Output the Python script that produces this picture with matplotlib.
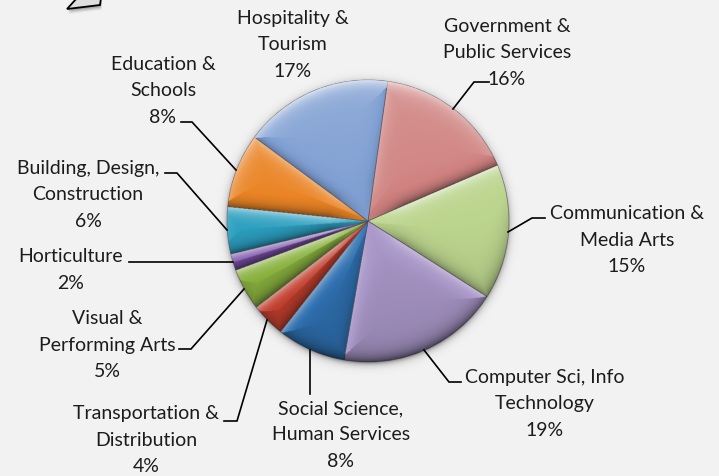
import numpy as np
import matplotlib
matplotlib.use("Agg")
import matplotlib.pyplot as plt
from matplotlib.patches import Circle, Polygon

W, H = 719, 476
BG = "#f2f2f2"
plt.rcParams["font.family"] = ["Lato", "DejaVu Sans"]

# ---- data (clockwise from the top) ----
categories = ["Government &\nPublic Services", "Communication &\nMedia Arts",
              "Computer Sci, Info\nTechnology", "Social Science,\nHuman Services",
              "Transportation &\nDistribution", "Visual &\nPerforming Arts",
              "Horticulture", "Building, Design,\nConstruction",
              "Education &\nSchools", "Hospitality &\nTourism"]
percent_labels = [16, 15, 19, 8, 4, 5, 2, 6, 8, 17]
slice_sizes = [16.3, 15.5, 18.7, 7.9, 3.9, 4.8, 1.9, 5.4, 8.5, 17.1]
colors = ["#cf8280", "#bcd58e", "#a997c8", "#2f70b0", "#c2402f",
          "#8ab23f", "#7b50a8", "#2c9fc0", "#ea8425", "#7f9fd2"]

# ---- layout in reference pixels ----
center_px = (368, 221)
radius_px = 141
start_angle = 82
label_centers = [(507, 53), (627, 240), (545, 404), (341, 435), (146, 440),
                 (107, 345), (71, 270), (88, 195), (163, 91), (293, 45)]
leaders = [[(489, 82), (474, 82), (453, 109)],
           [(545, 218), (532, 218), (508, 232)],
           [(461, 382), (449, 382), (424, 350)],
           [(310, 394), (310, 350)],
           [(224, 421), (237, 421), (267, 320)],
           [(179, 349), (191, 349), (244, 289)],
           [(129, 262), (233, 262)],
           [(165, 173), (177, 173), (227, 230)],
           [(181, 122), (192, 122), (236, 170)],
           None]

fig = plt.figure(figsize=(W / 100, H / 100), dpi=100, facecolor=BG)
ax = fig.add_axes([0, 0, 1, 1])
cx, cy = center_px[0], H - center_px[1]
R = radius_px

wedges, _ = ax.pie(slice_sizes, colors=colors, startangle=start_angle, counterclock=False,
                   center=(cx, cy), radius=R, frame=True,
                   wedgeprops=dict(edgecolor=(0.25, 0.25, 0.3, 0.55), linewidth=0.6, zorder=2))
ax.set_xlim(0, W)
ax.set_ylim(0, H)
ax.set_aspect("equal")
ax.axis("off")
fig.patch.set_facecolor(BG)

# ---- soft shading: drop shadow, bevel per slice ----
ss = 2
xs = (np.arange(W * ss) + 0.5) / ss
ys = (np.arange(H * ss) + 0.5) / ss
X, Y = np.meshgrid(xs, ys)
dx, dy = X - cx, Y - cy
r = np.hypot(dx, dy) + 1e-6
ang = (start_angle - np.degrees(np.arctan2(dy, dx))) % 360
edges = np.concatenate([[0], np.cumsum(slice_sizes)]) * 360.0 / sum(slice_sizes)
idx = np.clip(np.searchsorted(edges, ang, side="right") - 1, 0, len(slice_sizes) - 1)
a0 = np.radians(ang - edges[idx])
a1 = np.radians(edges[idx + 1] - ang)
d_arc = R - r
d0 = r * np.sin(np.minimum(a0, np.pi / 2))
d1 = r * np.sin(np.minimum(a1, np.pi / 2))
L = np.array([-0.25, 0.97])
ux, uy = dx / r, dy / r
t = np.radians(start_angle) - (np.radians(ang) - a0)
t1 = t - (a0 + a1)
n0x, n0y = -np.sin(t), np.cos(t)
n1x, n1y = np.sin(t1), -np.cos(t1)
dot_arc = ux * L[0] + uy * L[1]
dot0 = n0x * L[0] + n0y * L[1]
dot1 = n1x * L[0] + n1y * L[1]
w = 6.0
rim = 7.0
s_arc = dot_arc * np.exp(-np.maximum(d_arc, 0) / rim)
s_0 = dot0 * np.exp(-d0 / w) * np.clip(r / 40, 0, 1)
s_1 = dot1 * np.exp(-d1 / w) * np.clip(r / 40, 0, 1)
stack = np.stack([s_arc, s_0, s_1])
pick = np.argmax(np.abs(stack), axis=0)
s = np.take_along_axis(stack, pick[None], axis=0)[0]
s = np.where(s > 0, s * 0.62, s * 0.5)
s = s + 0.13 * (dy / R)
rgba = np.zeros(r.shape + (4,))
rgba[..., :3] = (s > 0)[..., None] * 1.0
rgba[..., 3] = np.clip(np.abs(s), 0, 0.8)
im = ax.imshow(rgba, extent=(0, W, 0, H), origin="lower", zorder=3, interpolation="bilinear")
im.set_clip_path(Circle((cx, cy), R, transform=ax.transData))

rs = np.hypot(X - cx, Y - (cy - 2))
sh = np.zeros(r.shape + (4,))
sh[..., 3] = np.where(rs > R - 2, 0.5 * np.exp(-np.maximum(rs - R + 2, 0) / 3.0), 0.5)
ax.imshow(sh, extent=(0, W, 0, H), origin="lower", zorder=1, interpolation="bilinear")
ax.set_xlim(0, W)
ax.set_ylim(0, H)

# ---- labels and leader lines ----
for name, val, (lx, ly), seg in zip(categories, percent_labels, label_centers, leaders):
    ax.text(lx, H - ly, f"{name}\n{val}%", ha="center", va="center", fontsize=14,
            color="#1c1c1c", linespacing=1.66, zorder=6)
    if seg:
        ax.plot([p[0] for p in seg], [H - p[1] for p in seg], color="black", lw=1.2,
                solid_joinstyle="miter", zorder=5)

# ---- fragment of a callout shape at the top-left edge ----
callout = [(67, 9), (77, -2), (101, -2), (100, 5)]
for off, a in [(5, 0.05), (4, 0.07), (3, 0.09), (2, 0.11), (1, 0.13)]:
    ax.add_patch(Polygon([(x + off * 0.3, H - y - off) for x, y in callout],
                         closed=True, fc=(0, 0, 0, a), ec="none", zorder=4))
ax.add_patch(Polygon([(x, H - y) for x, y in callout], closed=True, fc="#dedede",
                     ec="black", lw=1.3, zorder=5))

fig.savefig("out.png", dpi=100, facecolor=BG)
